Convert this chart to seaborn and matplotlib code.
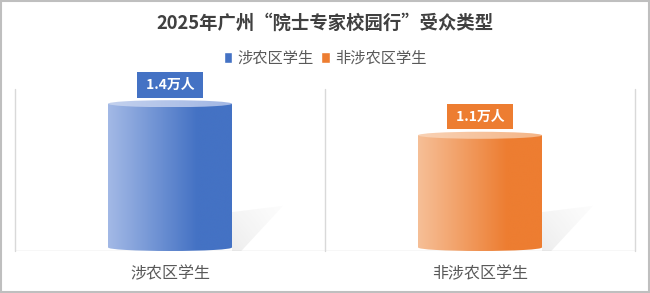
import numpy as np
import matplotlib
matplotlib.use('Agg')
import matplotlib.pyplot as plt
import seaborn as sns
import pandas as pd
from matplotlib.patches import Ellipse, Rectangle, Polygon, Patch
from matplotlib.colors import LinearSegmentedColormap

categories = ['涉农区学生', '非涉农区学生']
values = [1.4, 1.1]
value_labels = ['1.4万人', '1.1万人']
title = '2025年广州“院士专家校园行”受众类型'

sns.set_theme(style='white')
plt.rcParams['font.family'] = ['Noto Sans CJK SC', 'DejaVu Sans']

dark = ['#4472C4', '#ED7D31']
light = ['#A3B9E6', '#F6BF97']
top_light = ['#C3D1EE', '#F9D2B5']
top_dark = ['#A2B7E4', '#F4B587']

fig = plt.figure(figsize=(6.5, 2.93), dpi=100)
ax = fig.add_axes([15/650, 42/293, 620/650, 162/293])
df = pd.DataFrame({'cat': categories, 'val': values})
sns.barplot(data=df, x='cat', y='val', hue='cat', palette=dark, width=0.4,
            ax=ax, legend=False, saturation=1)

eh = 0.067
grad = np.linspace(0, 1, 256).reshape(1, -1)
for i, p in enumerate(list(ax.patches)):
    x0, w, h = p.get_x(), p.get_width(), p.get_height()
    x1 = x0 + w
    cx = x0 + w / 2
    p.set_visible(False)
    cmap = LinearSegmentedColormap.from_list('c', [(0, light[i]), (0.72, dark[i]), (1, dark[i])])
    # shadow
    sh = Polygon([(x1, 0.0), (x1, 0.37), (x1 + 0.165, 0.43), (x1 + 0.03, 0.0)],
                 closed=True, transform=ax.transData, fc='none', ec='none')
    ax.add_patch(sh)
    uu, vv = np.meshgrid(np.linspace(0, 1, 64), np.linspace(1, 0, 64))
    shimg = np.zeros((64, 64, 4))
    shimg[..., :3] = 0.55
    shimg[..., 3] = 0.16 * (1 - 0.75 * uu) * (1 - 0.5 * vv)
    im0 = ax.imshow(shimg, extent=[x1, x1 + 0.17, 0, 0.44], aspect='auto', zorder=1.5,
                    interpolation='bilinear')
    im0.set_clip_path(sh)
    # body
    rect = Rectangle((x0, eh / 2), w, h - eh / 2, transform=ax.transData, fc='none', ec='none')
    ax.add_patch(rect)
    im = ax.imshow(grad, extent=[x0, x1, 0, h], aspect='auto', cmap=cmap, zorder=2,
                   interpolation='bilinear')
    im.set_clip_path(rect)
    bot = Ellipse((cx, eh / 2), w, eh, transform=ax.transData, fc='none', ec='none')
    ax.add_patch(bot)
    im2 = ax.imshow(grad, extent=[x0, x1, 0, eh], aspect='auto', cmap=cmap, zorder=2,
                    interpolation='bilinear')
    im2.set_clip_path(bot)
    # top
    tcmap = LinearSegmentedColormap.from_list('t', [top_light[i], top_dark[i]])
    top = Ellipse((cx, h), w, eh, transform=ax.transData, fc='none', ec='none')
    ax.add_patch(top)
    im3 = ax.imshow(grad, extent=[x0, x1, h - eh / 2, h + eh / 2], aspect='auto', cmap=tcmap,
                    zorder=3, interpolation='bilinear')
    im3.set_clip_path(top)
    ax.annotate(' ' + value_labels[i] + ' ', xy=(cx, h), xytext=(0, 13.5), textcoords='offset points',
                ha='center', va='center', color='white', fontsize=10, fontweight='bold',
                bbox=dict(boxstyle='square,pad=0.42', fc=dark[i], ec='none'), zorder=5)

ax.set_xlim(-0.5, 1.5)
ax.set_ylim(0, 1.54)
for s in ax.spines.values():
    s.set_visible(False)
ax.axhline(0, color='#D9D9D9', lw=1, zorder=1)
for xv in [-0.5, 0.5, 1.5]:
    ax.axvline(xv, color='#D9D9D9', lw=1, zorder=1, clip_on=False)
ax.set_yticks([])
ax.set_xlabel('')
ax.set_ylabel('')
ax.tick_params(axis='x', length=0, pad=10, labelsize=11.5, labelcolor='#595959')

fig.text(0.5, 1 - 23 / 293, title, ha='center', va='center', fontsize=13.2,
         fontweight='bold', color='#404040')
handles = [Patch(facecolor=dark[0]), Patch(facecolor=dark[1])]
fig.legend(handles, categories, loc='center', bbox_to_anchor=(0.5, 1 - 58 / 293), ncol=2,
           frameon=False, fontsize=11, handlelength=0.55, handleheight=0.7,
           handletextpad=0.35, columnspacing=0.5, labelcolor='#595959')
fig.add_artist(Rectangle((0.001, 0.002), 0.997, 0.995, transform=fig.transFigure, fill=False,
                         edgecolor='#BFBFBF', lw=1.5))
fig.savefig('out.png', dpi=100)
